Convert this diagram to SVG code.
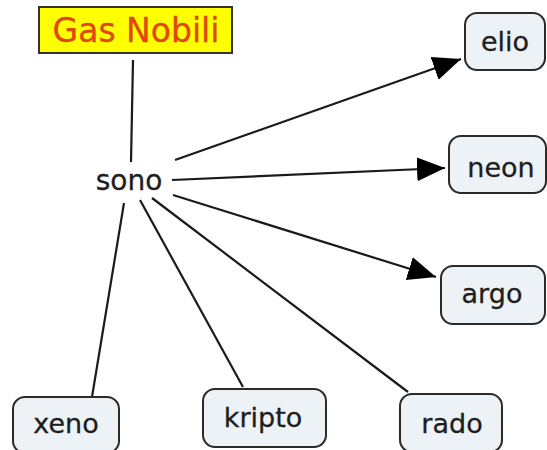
<svg xmlns="http://www.w3.org/2000/svg" width="547" height="450" viewBox="0 0 547 450">
  <style>
    .node rect { fill: #edf2f6; stroke: #2a2a2a; stroke-width: 2; }
    .node text, .label { font-family: "DejaVu Sans", Verdana, sans-serif; font-size: 27px; fill: #1e1e1e; text-anchor: middle; stroke: #1e1e1e; stroke-width: 0.3; }
    .label { font-size: 28px; }
    .link { stroke: #1a1a1a; stroke-width: 2.2; fill: none; }
    .title rect { fill: #ffff00; stroke: #333; stroke-width: 2; }
    .title text { font-family: "DejaVu Sans", Verdana, sans-serif; font-size: 33px; fill: #e3470c; stroke: #d0400a; stroke-width: 0.3; text-anchor: middle; }
  </style>
  <defs>
    <marker id="arrow" markerUnits="userSpaceOnUse" markerWidth="32" markerHeight="26" refX="28" refY="12" orient="auto">
      <path d="M0,0 L28,12 L0,24 Z" fill="#000"/>
    </marker>
  </defs>
  <rect width="547" height="450" fill="#fff"/>

  <g id="connectors">
    <line class="link" x1="133" y1="60" x2="131" y2="162"/>
    <line class="link" x1="175" y1="160" x2="461" y2="59" marker-end="url(#arrow)"/>
    <line class="link" x1="172" y1="180" x2="445" y2="168" marker-end="url(#arrow)"/>
    <line class="link" x1="173" y1="195" x2="436" y2="277" marker-end="url(#arrow)"/>
    <line class="link" x1="124" y1="203" x2="92" y2="397"/>
    <line class="link" x1="140" y1="200" x2="243" y2="387"/>
    <line class="link" x1="152" y1="198" x2="408" y2="392"/>
  </g>

  <g id="gas-nobili" class="title">
    <rect x="39" y="7" width="193" height="46"/>
    <text x="136" y="42">Gas Nobili</text>
  </g>

  <g id="sono">
    <text class="label" x="129" y="190">sono</text>
  </g>

  <g id="elio" class="node">
    <rect x="465" y="13" width="80" height="57" rx="12"/>
    <text x="505" y="51">elio</text>
  </g>

  <g id="neon" class="node">
    <rect x="449" y="136" width="97" height="57" rx="12"/>
    <text x="501" y="177">neon</text>
  </g>

  <g id="argo" class="node">
    <rect x="441" y="266" width="104" height="58" rx="12"/>
    <text x="492" y="303">argo</text>
  </g>

  <g id="xeno" class="node">
    <rect x="13" y="397" width="106" height="56" rx="12"/>
    <text x="66" y="433">xeno</text>
  </g>

  <g id="kripto" class="node">
    <rect x="203" y="389" width="123" height="58" rx="12"/>
    <text x="263" y="427">kripto</text>
  </g>

  <g id="rado" class="node">
    <rect x="400" y="394" width="102" height="58" rx="12"/>
    <text x="452" y="433">rado</text>
  </g>
</svg>
